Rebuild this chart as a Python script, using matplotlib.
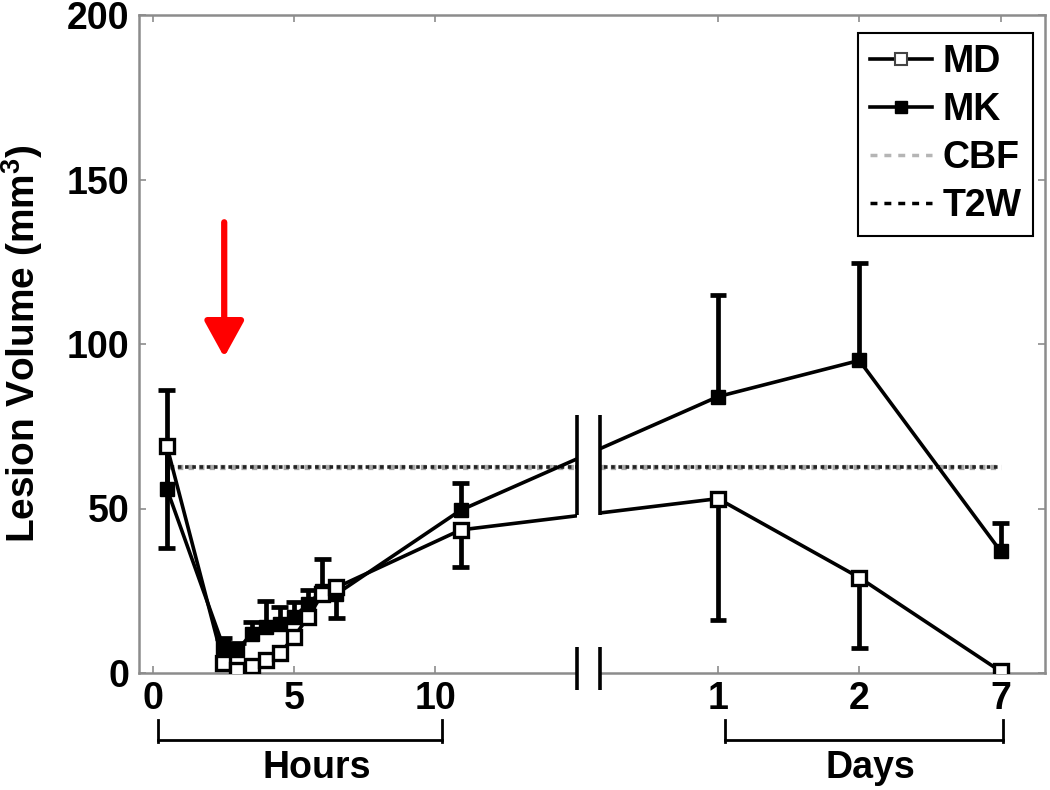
import numpy as np
import matplotlib
matplotlib.use("Agg")
import matplotlib.pyplot as plt
from matplotlib.lines import Line2D
from matplotlib.patches import Rectangle
import matplotlib.transforms as mtransforms

plt.rcParams['font.family'] = ['Liberation Sans', 'DejaVu Sans']
plt.rcParams['font.weight'] = 'bold'
plt.rcParams['mathtext.fontset'] = 'custom'
plt.rcParams['mathtext.rm'] = 'Liberation Sans:bold'
plt.rcParams['mathtext.bf'] = 'Liberation Sans:bold'

# ---------------- data ----------------
hours = [0.5, 2.5, 3.0, 3.5, 4.0, 4.5, 5.0, 5.5, 6.0, 6.5, 10.9]
days = [1, 2, 7]
# broken axis: day entries are placed at these axis positions
day_axis_pos = {1: 20, 2: 25, 7: 30}

md_hours = [69, 3, 1, 2, 4, 6, 11, 17, 24, 26, 43.5]
mk_hours = [56, 8, 7, 12, 14, 15, 17, 21, 25, 24, 49.5]
md_days = [53, 29, 0.5]
mk_days = [84, 95, 37]

# MD: lower error bars, MK: upper error bars
md_err_lo_hours = [31, 0, 0, 0, 0, 0, 0, 0, 0, 9.2, 11.3]
md_err_lo_days = [37, 21.4, 0]
mk_err_up_hours = [30, 2.7, 2, 3.6, 8, 5.2, 4.7, 4.3, 9.5, 0, 8.3]
mk_err_up_days = [31, 29.5, 8.5]

cbf_level = 62.5
t2w_level = 62.5

hour_ticks = [0, 5, 10]
day_ticks = [1, 2, 7]

# ---------------- figure ----------------
fig = plt.figure(figsize=(10.5, 7.9), dpi=100)
ax = fig.add_axes([139/1050, 1-673/790, (1045-139)/1050, (673-15)/790])

x_all = np.array(hours + [day_axis_pos[d] for d in days], dtype=float)
md = np.array(md_hours + md_days, dtype=float)
mk = np.array(mk_hours + mk_days, dtype=float)
md_lo = np.array(md_err_lo_hours + md_err_lo_days, dtype=float)
mk_up = np.array(mk_err_up_hours + mk_err_up_days, dtype=float)

cap_w = 0.3
# error bars
m = md_lo > 0
ax.vlines(x_all[m], md[m] - md_lo[m], md[m], color='black', lw=3.4, zorder=3)
ax.hlines(md[m] - md_lo[m], x_all[m] - cap_w, x_all[m] + cap_w, color='black', lw=3.4, zorder=3)
m = mk_up > 0
ax.vlines(x_all[m], mk[m], mk[m] + mk_up[m], color='black', lw=3.4, zorder=3)
ax.hlines(mk[m] + mk_up[m], x_all[m] - cap_w, x_all[m] + cap_w, color='black', lw=3.4, zorder=3)

# reference lines
x0, x1 = x_all[0], x_all[-1]
ax.plot([x0, x1], [cbf_level, cbf_level], color='#a8a8a8', lw=3.8, ls=(0, (1.0, 1.0)), zorder=2)
ax.plot([x0, x1], [t2w_level, t2w_level], color='#222222', lw=2.6, ls=(1.0, (1.0, 1.0)), zorder=2)

# series
ax.plot(x_all, mk, color='black', lw=2.6, marker='s', ms=10, mfc='black', mec='black', zorder=4)
ax.plot(x_all, md, color='black', lw=2.6, marker='s', ms=10, mfc='white', mec='black', mew=2.4, zorder=5)

# break in the plot region
gap_l, gap_r = 15.0, 15.83
ax.add_patch(Rectangle((gap_l, 45), gap_r - gap_l, 36, facecolor='white', edgecolor='none', zorder=6))
ax.vlines([gap_l, gap_r], 48, 78.5, color='black', lw=2.6, zorder=7)
# break in the x axis
ax.add_patch(Rectangle((gap_l, -3), gap_r - gap_l, 6, facecolor='white', edgecolor='none',
                       zorder=6, clip_on=False))
ax.vlines([gap_l, gap_r], -5.2, 7.9, color='black', lw=2.6, zorder=7, clip_on=False)

# red arrow
ax.annotate('', xy=(2.53, 96), xytext=(2.53, 137),
            arrowprops=dict(arrowstyle='-|>,head_length=1.0,head_width=0.55',
                            color='red', lw=4.5, mutation_scale=22, shrinkA=0, shrinkB=0),
            zorder=8)

# axes styling
ax.set_xlim(-0.485, 31.57)
ax.set_ylim(0, 200)
ax.set_xticks(hour_ticks + [day_axis_pos[d] for d in day_ticks])
ax.set_xticklabels([str(t) for t in hour_ticks] + [str(d) for d in day_ticks])
ax.set_yticks([0, 50, 100, 150, 200])
ax.tick_params(axis='both', direction='in', length=5, width=1.2, color='#8c8c8c',
               labelsize=27, top=True, right=True)
ax.tick_params(axis='x', pad=6)
ax.tick_params(axis='y', pad=7)
for s in ax.spines.values():
    s.set_color('#8c8c8c')
    s.set_linewidth(1.8)

ax.set_ylabel('Lesion Volume (mm$^{3}$)', fontsize=28, fontweight='bold')
ax.yaxis.set_label_coords((45 - 139) / 906, 0.5)

# Hours / Days brackets
trans = mtransforms.blended_transform_factory(ax.transData, ax.transAxes)
yb = (673 - 740) / 658
yt = (673 - 720) / 658
yl = (673 - 742) / 658
for a, b in [(0.2, 10.25), (20.25, 30.1)]:
    ax.plot([a, b], [yb, yb], color='black', lw=2, transform=trans, clip_on=False)
    ax.plot([a, a], [yt, yl], color='black', lw=2, transform=trans, clip_on=False)
    ax.plot([b, b], [yt, yl], color='black', lw=2, transform=trans, clip_on=False)
ytxt = (673 - 768) / 658
ax.text(5.8, ytxt, 'Hours', transform=trans, ha='center', va='center', fontsize=27, fontweight='bold')
ax.text(25.4, ytxt, 'Days', transform=trans, ha='center', va='center', fontsize=27, fontweight='bold')

# legend
handles = [
    Line2D([], [], color='black', lw=2.6, marker='s', ms=8, mfc='white', mec='#444444', mew=1.5),
    Line2D([], [], color='black', lw=2.6, marker='s', ms=8, mfc='black', mec='black'),
    Line2D([], [], color='#b5b5b5', lw=2.5, dashes=(2, 2)),
    Line2D([], [], color='black', lw=2.5, dashes=(2, 2)),
]
leg = ax.legend(handles, ['MD', 'MK', 'CBF', 'T2W'], loc='upper right',
                bbox_to_anchor=(1033/1050, 1 - 33/790), bbox_transform=fig.transFigure,
                borderaxespad=0, frameon=True, fancybox=False,
                handlelength=1.65, handletextpad=0.3, labelspacing=0.32,
                borderpad=0.3, prop={'weight': 'bold', 'size': 27})
leg.get_frame().set_edgecolor('black')
leg.get_frame().set_linewidth(1.5)
leg.get_frame().set_alpha(1)
leg.set_zorder(10)

fig.savefig('out.png', dpi=100)
